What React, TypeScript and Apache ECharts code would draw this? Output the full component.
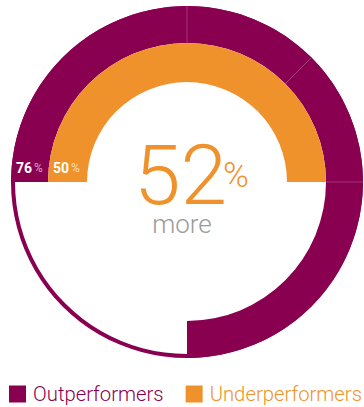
import React, { useEffect, useRef } from "react";
import * as echarts from "echarts";

const PURPLE = "#8A0050";
const ORANGE = "#F0922B";

const seriesNames = ["Outperformers", "Underperformers"];
const labelValues = [76, 50];
// outer ring segments (share of a full circle, in %), as drawn
const outerSegments = [25, 12.5, 12.5, 25];
const innerSegments = [50];
const headline = 52;
const headlineWord = "more";

const CX = 187;
const CY = 182;
const R_OUT = [139, 176];
const R_IN = [100, 139];
const R_THIN = [172, 176];

export default function App() {
  const ref = useRef<HTMLDivElement>(null);
  useEffect(() => {
    document.body.style.margin = "0";
    const chart = echarts.init(ref.current!, null, { renderer: "svg" });
    const outerSum = outerSegments.reduce((a, b) => a + b, 0);
    const innerSum = innerSegments.reduce((a, b) => a + b, 0);
    const blank = { value: 0, name: "", itemStyle: { color: "rgba(0,0,0,0)" } };

    const seps: any[] = [];
    let cum = 0;
    outerSegments.slice(0, -1).forEach((v) => {
      cum += v;
      const th = ((180 - 3.6 * cum) * Math.PI) / 180;
      seps.push({
        type: "line",
        z: 10,
        shape: {
          x1: CX + R_OUT[0] * Math.cos(th),
          y1: CY - R_OUT[0] * Math.sin(th),
          x2: CX + R_OUT[1] * Math.cos(th),
          y2: CY - R_OUT[1] * Math.sin(th),
        },
        style: { stroke: "#A8437E", lineWidth: 0.8 },
      });
    });

    const common = {
      type: "pie",
      center: [CX, CY],
      startAngle: 180,
      clockwise: true,
      silent: true,
      label: { show: false },
      labelLine: { show: false },
      emphasis: { disabled: true },
      avoidLabelOverlap: false,
      minAngle: 0,
      animation: false,
    };

    chart.setOption({
      animation: false,
      legend: {
        left: 9,
        top: 384,
        padding: 0,
        width: 362,
        itemWidth: 17,
        itemHeight: 17,
        itemGap: 22,
        icon: "rect",
        selectedMode: false,
        textStyle: {
          fontFamily: "Roboto",
          fontWeight: 300,
          fontSize: 20.3,
          padding: [0, 0, 0, 2],
        },
        data: [
          { name: seriesNames[0], textStyle: { color: PURPLE } },
          { name: seriesNames[1], textStyle: { color: ORANGE } },
        ],
      },
      series: [
        {
          ...common,
          z: 1,
          radius: R_THIN,
          data: [{ value: 100, name: "ring", itemStyle: { color: PURPLE } }],
        },
        {
          ...common,
          z: 2,
          radius: R_OUT,
          data: [
            ...outerSegments.map((v) => ({
              value: v,
              name: seriesNames[0],
              itemStyle: { color: PURPLE },
            })),
            { ...blank, value: 100 - outerSum },
          ],
        },
        {
          ...common,
          z: 2,
          radius: R_IN,
          data: [
            ...innerSegments.map((v) => ({
              value: v,
              name: seriesNames[1],
              itemStyle: { color: ORANGE },
            })),
            { ...blank, value: 100 - innerSum },
          ],
        },
      ],
      graphic: [
        ...seps,
        {
          type: "text",
          z: 10,
          x: 16,
          y: 168,
          style: {
            text: `{a|${labelValues[0]}}{b|%}`,
            verticalAlign: "middle",
            rich: {
              a: { fontFamily: "Roboto", fontWeight: "bold", fontSize: 14, fill: "#fff", padding: [0, 2, 0, 0] },
              b: { fontFamily: "Roboto", fontSize: 12, fill: "#D9A3C3" },
            },
          },
        },
        {
          type: "text",
          z: 10,
          x: 53,
          y: 168,
          style: {
            text: `{a|${labelValues[1]}}{b|%}`,
            verticalAlign: "middle",
            rich: {
              a: { fontFamily: "Roboto", fontWeight: "bold", fontSize: 14, fill: "#fff", padding: [0, 2, 0, 0] },
              b: { fontFamily: "Roboto", fontSize: 12, fill: "#FBDDB8" },
            },
          },
        },
        {
          type: "text",
          z: 10,
          x: 134,
          y: 175,
          style: {
            text: String(headline),
            fontFamily: "Roboto",
            fontWeight: 300,
            fontSize: 84,
            lineHeight: 60,
            fill: ORANGE,
            verticalAlign: "middle",
            align: "left",
          },
        },
        {
          type: "text",
          z: 10,
          x: 223,
          y: 175,
          style: {
            text: "%",
            fontFamily: "Roboto",
            fontWeight: 300,
            fontSize: 35,
            lineHeight: 26,
            fill: ORANGE,
            verticalAlign: "middle",
            align: "left",
          },
        },
        {
          type: "text",
          z: 10,
          x: 182,
          y: 224,
          style: {
            text: headlineWord,
            fontFamily: "Roboto",
            fontWeight: 300,
            fontSize: 26,
            lineHeight: 20,
            fill: "#9B9B9B",
            verticalAlign: "middle",
            align: "center",
          },
        },
      ],
    });
    return () => chart.dispose();
  }, []);
  return <div ref={ref} style={{ width: 364, height: 407 }} />;
}
